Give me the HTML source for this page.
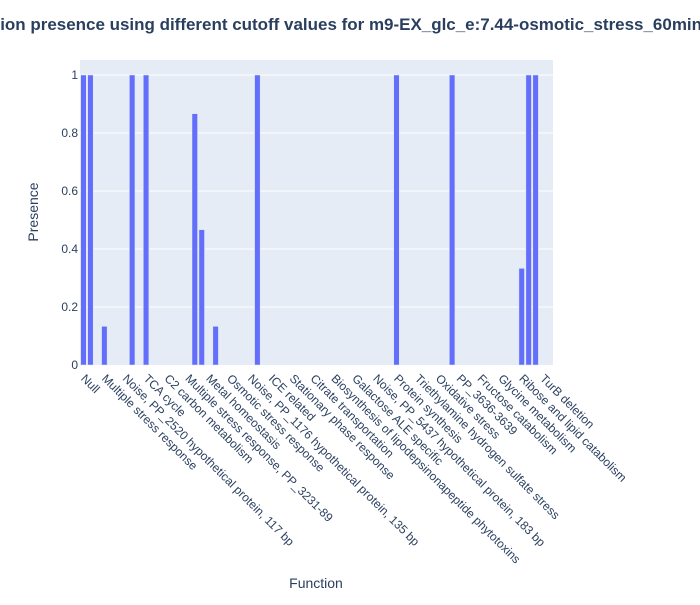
<!DOCTYPE html>
<html><head><meta charset="utf-8"><style>
html,body{margin:0;padding:0;background:#fff;}
svg text{font-family:"Liberation Sans",Arial,sans-serif;fill:#2a3f5f;}
</style></head><body>
<svg id="chart" width="700" height="600" xmlns="http://www.w3.org/2000/svg">
<text x="-46" y="30" font-size="17" font-weight="bold" textLength="748" lengthAdjust="spacingAndGlyphs">Function presence using different cutoff values for m9-EX_glc_e:7.44-osmotic_stress_60min</text>
<rect x="80" y="60" width="473" height="305" fill="#e5ecf6"/>
<g id="grid"></g><g id="bars"></g><g id="yticks"></g><g id="xticks"></g>
<text transform="translate(38,212) rotate(-90)" text-anchor="middle" font-size="14">Presence</text>
<text x="316" y="588" text-anchor="middle" font-size="14">Function</text>
</svg>
<script>
const categoryCount = 68;
const tickLabels = ["Null","Multiple stress response","Noise, PP_2520 hypothetical protein, 117 bp","TCA cycle","C2 carbon metabolism","Multiple stress response, PP_3231-89","Metal homeostasis","Osmotic stress response","Noise, PP_1176 hypothetical protein, 135 bp","ICE related","Stationary phase response","Citrate transportation","Biosynthesis of lipodepsinonapeptide phytotoxins","Galactose ALE specific","Noise, PP_5437 hypothetical protein, 183 bp","Protein synthesis","Triethylamine hydrogen sulfate stress","Oxidative stress","PP_3636-3639","Fructose catabolism","Glycine metabolism","Ribose and lipid catabolism","TurB deletion"];
const barIndices = [0,1,3,7,9,16,17,19,25,45,53,63,64,65];
const barValues = [1,1,0.1333,1,1,0.8667,0.4667,0.1333,1,1,1,0.3333,1,1];
const yTicks = [0,0.2,0.4,0.6,0.8,1];
const yTickLabels = ["0","0.2","0.4","0.6","0.8","1"];

const X0=80,X1=553,Y0=365,Y1=75;
const NS="http://www.w3.org/2000/svg";
const pitch=(X1-X0)/categoryCount;
const xc=i=>X0+(i+0.5)*pitch;
const y=v=>Y0-(Y0-Y1)*v;
function mk(tag,attrs,parent){const e=document.createElementNS(NS,tag);for(const k in attrs)e.setAttribute(k,attrs[k]);parent.appendChild(e);return e;}
const grid=document.getElementById('grid'),bars=document.getElementById('bars'),yt=document.getElementById('yticks'),xt=document.getElementById('xticks');
yTicks.forEach((v,k)=>{
  if(v>0){const g=mk('line',{x1:X0,x2:X1,y1:y(v),y2:y(v),stroke:'#fff','stroke-width':1},grid);
  
  }
  const t=mk('text',{x:78,y:y(v)+4,'text-anchor':'end','font-size':12},yt);
  t.textContent=yTickLabels[k];
  
  
});
barIndices.forEach((idx,k)=>{
  const w=pitch*0.8;
  const r=mk('rect',{x:xc(idx)-w/2,y:y(barValues[k]),width:w,height:Y0-y(barValues[k]),fill:'#636efa',stroke:'#e5ecf6','stroke-width':0.5},bars);
  
  
});
tickLabels.forEach((lab,k)=>{
  const cx=xc(k*3)+1;
  const t=mk('text',{x:cx,y:381,'font-size':12,transform:`rotate(45 ${cx} 375)`},xt);
  t.textContent=lab;
  
  
});
</script>
</body></html>
